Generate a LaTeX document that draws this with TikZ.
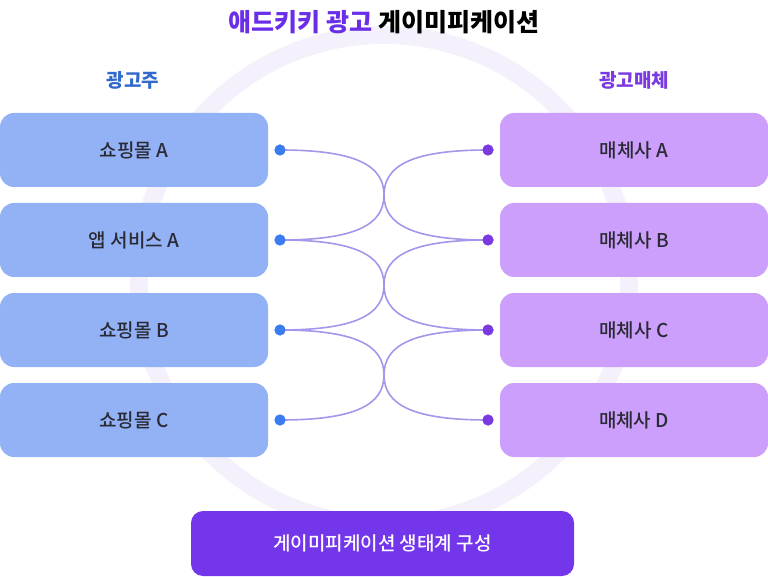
\documentclass[tikz,border=0pt]{standalone}
\usetikzlibrary{calc}
\usepackage{fontspec}
\setmainfont{Noto Sans CJK KR}
\newfontfamily\med{Noto Sans CJK KR Medium}
\definecolor{lbox}{HTML}{93B1F5}
\definecolor{rbox}{HTML}{CC9FFC}
\definecolor{ldot}{HTML}{3B7CF0}
\definecolor{rdot}{HTML}{7B3AE0}
\definecolor{ttl}{HTML}{6A2EE8}
\definecolor{btm}{HTML}{7436EA}
\definecolor{lnk}{HTML}{A596EC}
\definecolor{ring}{HTML}{F4F0FC}
\definecolor{txt}{HTML}{2A2A35}
\begin{document}
\begin{tikzpicture}[x=1pt,y=-1pt,
 box/.style={rounded corners=14pt,minimum width=268pt,minimum height=74pt,inner sep=0,font=\med\fontsize{19}{19}\selectfont,text=txt},
 lb/.style={box,fill=lbox},
 rb/.style={box,fill=rbox},
 ld/.style={circle,fill=ldot,minimum size=11pt,inner sep=0},
 rd/.style={circle,fill=rdot,minimum size=11pt,inner sep=0},
 lk/.style={draw=lnk,line width=1.6pt}]
\useasboundingbox (0,0) rectangle (768,577);
\draw[ring,line width=18pt] (384,280) circle (245);
\node[font=\fontsize{25}{25}\bfseries] (title) at (384,22) {\textcolor{ttl}{애드키키 광고} 게이미피케이션};
\node[font=\fontsize{19}{19}\bfseries,text=ldot!85!black] (hl) at (133,80) {광고주};
\node[font=\fontsize{19}{19}\bfseries,text=rdot] (hr) at (634,80) {광고매체};
\foreach \n/\t/\y in {1/쇼핑몰 A/150,2/앱 서비스 A/240,3/쇼핑몰 B/330,4/쇼핑몰 C/420}{
 \node[lb] (L\n) at (134,\y) {\t};
 \node[ld] (a\n) at (280,\y) {};}
\foreach \n/\t/\y in {1/매체사 A/150,2/매체사 B/240,3/매체사 C/330,4/매체사 D/420}{
 \node[rb] (R\n) at (634,\y) {\t};
 \node[rd] (b\n) at (488,\y) {};}
\foreach \i/\j in {1/2,2/1,2/3,3/2,3/4,4/3}{
 \coordinate (m) at ($(a\i.center)!0.5!(b\j.center)$);
 \draw[lk] (a\i.center) .. controls ($(a\i.center)+(75,0)$) and ($(m)+(0,{(\i-\j)*30})$) .. (m)
   .. controls ($(m)+(0,{(\j-\i)*30})$) and ($(b\j.center)+(-75,0)$) .. (b\j.center);}
\foreach \n in {1,...,4}{\fill[ldot] (a\n) circle (5.5); \fill[rdot] (b\n) circle (5.5);}
\node[fill=btm,rounded corners=12pt,minimum width=383pt,minimum height=65pt,text=white,font=\med\fontsize{19}{19}\selectfont] (bt) at (382.5,543.5) {게이미피케이션 생태계 구성};
\end{tikzpicture}
\end{document}
